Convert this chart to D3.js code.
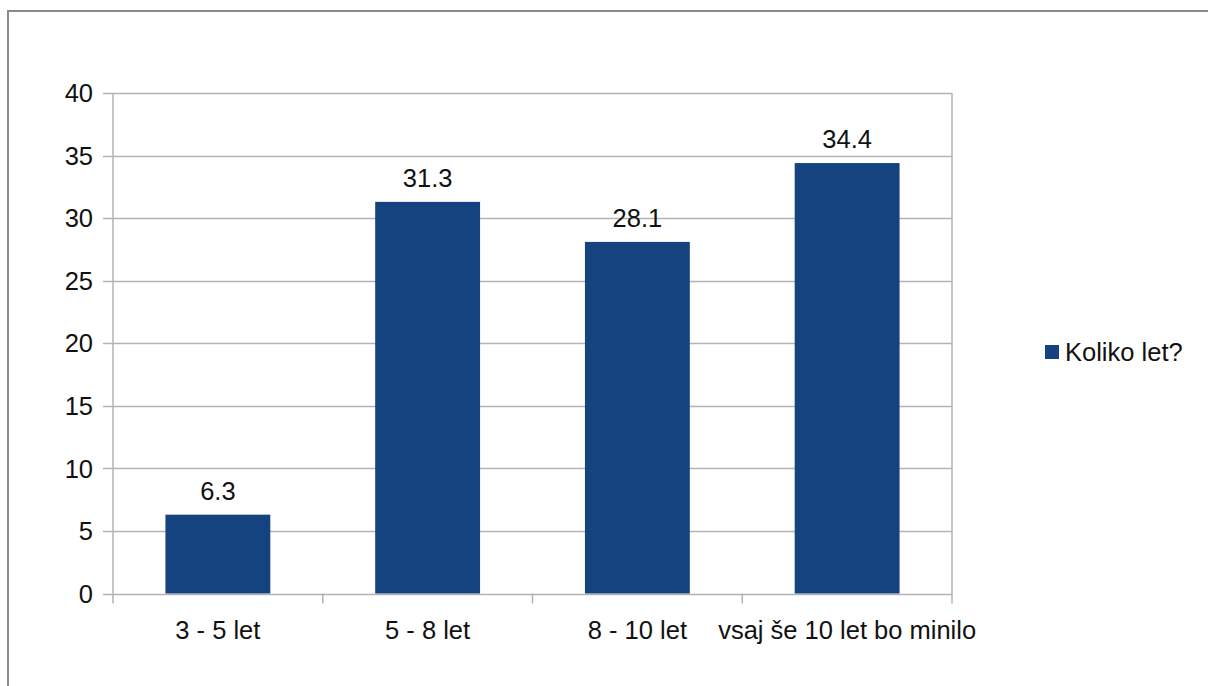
<!DOCTYPE html>
<html>
<head>
<meta charset="utf-8">
<script src="https://cdn.jsdelivr.net/npm/d3@7"></script>
<style>
  html, body { margin: 0; padding: 0; background: #fff; }
  svg { display: block; font-family: "Liberation Sans", Arial, sans-serif; }
</style>
</head>
<body>
<svg id="chart" width="1208" height="686"></svg>
<script>
// Survey answers: "Koliko let?" (how many years)
const categories = ["3 - 5 let", "5 - 8 let", "8 - 10 let", "vsaj še 10 let bo minilo"];
const values = [6.3, 31.3, 28.1, 34.4];
const yTicks = [0, 5, 10, 15, 20, 25, 30, 35, 40];
const seriesName = "Koliko let?";

const svg = d3.select("#chart");
const barColor = "#14437f";
const gridColor = "#b3b3b3";
const textColor = "#111";
const fontSize = 25.5;

// Outer frame (top and left edges visible)
svg.append("path")
  .attr("d", "M8,686 V11 H1208")
  .attr("fill", "none")
  .attr("stroke", "#8a8a8a")
  .attr("stroke-width", 2);

const plot = { left: 113, right: 952, top: 93, bottom: 593.5 };

const x = d3.scaleBand()
  .domain(categories)
  .range([plot.left, plot.right])
  .paddingInner(0)
  .paddingOuter(0);

const y = d3.scaleLinear()
  .domain([0, 40])
  .range([plot.bottom, plot.top]);

// Horizontal gridlines
svg.append("g")
  .selectAll("line")
  .data(yTicks)
  .join("line")
  .attr("x1", plot.left - 10)
  .attr("x2", plot.right)
  .attr("y1", d => Math.round(y(d)) + 0.5)
  .attr("y2", d => Math.round(y(d)) + 0.5)
  .attr("stroke", gridColor)
  .attr("stroke-width", 1.5);

// Vertical axis lines at left and right of plot
svg.append("g")
  .selectAll("line")
  .data([plot.left, plot.right])
  .join("line")
  .attr("x1", d => d)
  .attr("x2", d => d)
  .attr("y1", plot.top)
  .attr("y2", plot.bottom + 10)
  .attr("stroke", gridColor)
  .attr("stroke-width", 1.5);

// Category divider ticks below the baseline
svg.append("g")
  .selectAll("line")
  .data(categories.slice(1))
  .join("line")
  .attr("x1", d => x(d))
  .attr("x2", d => x(d))
  .attr("y1", plot.bottom)
  .attr("y2", plot.bottom + 10)
  .attr("stroke", gridColor)
  .attr("stroke-width", 1.5);

// Y tick labels
svg.append("g")
  .selectAll("text")
  .data(yTicks)
  .join("text")
  .attr("x", plot.left - 20)
  .attr("y", d => y(d))
  .attr("dy", "0.36em")
  .attr("text-anchor", "end")
  .attr("font-size", fontSize)
  .attr("fill", textColor)
  .text(d => d);

// Bars: half the band width, centered
const barW = x.bandwidth() / 2;
svg.append("g")
  .selectAll("rect")
  .data(values)
  .join("rect")
  .attr("x", (d, i) => x(categories[i]) + (x.bandwidth() - barW) / 2)
  .attr("y", d => y(d))
  .attr("width", barW)
  .attr("height", d => plot.bottom - y(d))
  .attr("fill", barColor);

// Value labels above bars
svg.append("g")
  .selectAll("text")
  .data(values)
  .join("text")
  .attr("x", (d, i) => x(categories[i]) + x.bandwidth() / 2)
  .attr("y", d => y(d) - 15)
  .attr("text-anchor", "middle")
  .attr("font-size", fontSize)
  .attr("fill", textColor)
  .text(d => d.toFixed(1));

// Category labels
svg.append("g")
  .selectAll("text")
  .data(categories)
  .join("text")
  .attr("x", d => x(d) + x.bandwidth() / 2)
  .attr("y", 639)
  .attr("text-anchor", "middle")
  .attr("font-size", fontSize)
  .attr("fill", textColor)
  .text(d => d);

// Legend
const legend = svg.append("g").attr("transform", "translate(1045,345)");
legend.append("rect")
  .attr("width", 14)
  .attr("height", 14)
  .attr("fill", barColor);
legend.append("text")
  .attr("x", 20)
  .attr("y", 7)
  .attr("dy", "0.36em")
  .attr("font-size", fontSize)
  .attr("fill", textColor)
  .text(seriesName);
</script>
</body>
</html>
